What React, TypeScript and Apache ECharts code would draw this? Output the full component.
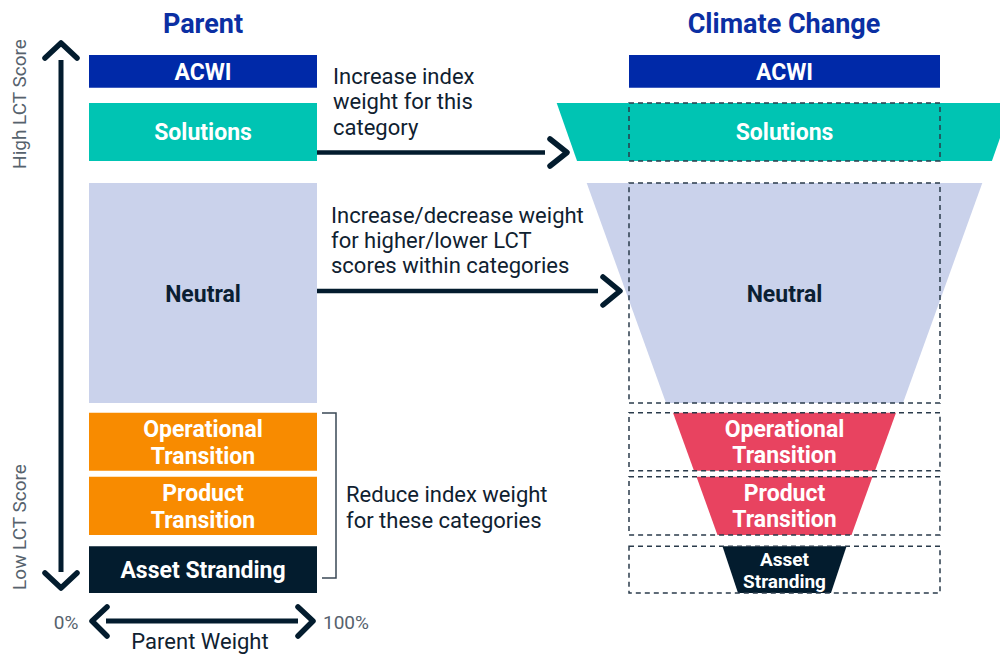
import React, { useEffect, useRef } from "react";
import * as echarts from "echarts";

// ---- data ----
const categories = [
  "ACWI",
  "Solutions",
  "Neutral",
  "Operational Transition",
  "Product Transition",
  "Asset Stranding",
];
const parentLabels = [
  "ACWI",
  "Solutions",
  "Neutral",
  "Operational\nTransition",
  "Product\nTransition",
  "Asset Stranding",
];
const climateLabels = [
  "ACWI",
  "Solutions",
  "Neutral",
  "Operational\nTransition",
  "Product\nTransition",
  "Asset\nStranding",
];
// band extent on the LCT-score rank scale (0 = highest, 100 = lowest)
const bandStart = [0, 8.9, 23.8, 66.5, 78.4, 91.3];
const bandEnd = [6.1, 19.7, 64.7, 77.3, 89.2, 100];
// parent weight (share of full width, %)
const parentWeight = [100, 100, 100, 100, 100, 100];
// climate change weight relative to parent (%), at top and bottom of each band
const climateTopWeight = [100, 146.5, 127.2, 71.7, 56.6, 39.9];
const climateBottomWeight = [100, 133.4, 76.2, 58.2, 43.1, 29.9];

// ---- styles ----
const parentColors = ["#0029A8", "#00C4B3", "#CAD2EB", "#F88B00", "#F88B00", "#031C2E"];
const climateColors = ["#0029A8", "#00C4B3", "#CAD2EB", "#E84360", "#E84360", "#031C2E"];
const labelColors = ["#FFFFFF", "#FFFFFF", "#0B1F33", "#FFFFFF", "#FFFFFF", "#FFFFFF"];
const climateFontSizes = [23, 23, 23, 23, 23, 19];
const climateLineHeights = [26, 26, 26, 26, 26, 21.5];

const FONT = "Roboto, 'Noto Sans', sans-serif";
const DARK = "#0F2130";
const GRAY = "#56626D";
const TITLE = "#0B2FA3";

function chevron(points: number[][]) {
  return {
    type: "polyline",
    shape: { points },
    style: { stroke: "#031C2E", lineWidth: 5.5, lineCap: "round", lineJoin: "round", fill: null },
  };
}

function line(x1: number, y1: number, x2: number, y2: number, w = 4.5) {
  return {
    type: "line",
    shape: { x1, y1, x2, y2 },
    style: { stroke: "#031C2E", lineWidth: w },
  };
}

function txt(x: number, y: number, text: string, opts: any = {}) {
  return {
    type: "text",
    x,
    y,
    rotation: opts.rotation || 0,
    style: {
      text,
      fill: opts.fill || DARK,
      fontFamily: FONT,
      fontSize: opts.fontSize || 22,
      fontWeight: opts.fontWeight || "normal",
      align: opts.align || "left",
      verticalAlign: "middle",
      lineHeight: opts.lineHeight || 25.5,
    },
  };
}

export default function App() {
  const ref = useRef<HTMLDivElement>(null);

  useEffect(() => {
    document.body.style.margin = "0";
    if (!ref.current) return;
    const chart = echarts.init(ref.current, undefined, { renderer: "svg" });

    const parentData = categories.map((_, i) => [0, parentWeight[i], bandStart[i], bandEnd[i]]);
    const climateData = categories.map((_, i) => [
      climateTopWeight[i],
      climateBottomWeight[i],
      bandStart[i],
      bandEnd[i],
    ]);

    const option: any = {
      animation: false,
      backgroundColor: "#ffffff",
      grid: [
        { left: 89, top: 55, width: 228, height: 538 },
        { left: 629, top: 55, width: 311, height: 538 },
      ],
      xAxis: [
        { type: "value", gridIndex: 0, min: 0, max: 100, show: false },
        { type: "value", gridIndex: 1, min: 0, max: 100, show: false },
      ],
      yAxis: [
        { type: "value", gridIndex: 0, min: 0, max: 100, inverse: true, show: false },
        { type: "value", gridIndex: 1, min: 0, max: 100, inverse: true, show: false },
      ],
      series: [
        {
          type: "custom",
          name: "Parent",
          xAxisIndex: 0,
          yAxisIndex: 0,
          clip: false,
          data: parentData,
          renderItem: (params: any, api: any) => {
            const i = params.dataIndex;
            const p0 = api.coord([api.value(0), api.value(2)]);
            const p1 = api.coord([api.value(1), api.value(3)]);
            return {
              type: "group",
              children: [
                {
                  type: "rect",
                  shape: { x: p0[0], y: p0[1], width: p1[0] - p0[0], height: p1[1] - p0[1] },
                  style: { fill: parentColors[i] },
                },
                {
                  type: "text",
                  x: (p0[0] + p1[0]) / 2,
                  y: (p0[1] + p1[1]) / 2 + 1,
                  style: {
                    text: parentLabels[i],
                    fill: labelColors[i],
                    fontFamily: FONT,
                    fontWeight: "bold",
                    fontSize: 23,
                    lineHeight: 27,
                    align: "center",
                    verticalAlign: "middle",
                  },
                },
              ],
            };
          },
        },
        {
          type: "custom",
          name: "Climate Change",
          xAxisIndex: 1,
          yAxisIndex: 1,
          clip: false,
          data: climateData,
          renderItem: (params: any, api: any) => {
            const i = params.dataIndex;
            const tw = api.value(0);
            const bw = api.value(1);
            const y0 = api.value(2);
            const y1 = api.value(3);
            const tl = api.coord([50 - tw / 2, y0]);
            const tr = api.coord([50 + tw / 2, y0]);
            const br = api.coord([50 + bw / 2, y1]);
            const bl = api.coord([50 - bw / 2, y1]);
            const r0 = api.coord([0, y0]);
            const r1 = api.coord([100, y1]);
            const children: any[] = [
              {
                type: "polygon",
                shape: { points: [tl, tr, br, bl] },
                style: { fill: climateColors[i] },
              },
            ];
            if (i > 0) {
              children.push({
                type: "rect",
                shape: { x: r0[0], y: r0[1], width: r1[0] - r0[0], height: r1[1] - r0[1] },
                style: { fill: null, stroke: "#2A3B4B", lineWidth: 1.5, lineDash: [5, 4] },
              });
            }
            children.push({
              type: "text",
              x: (r0[0] + r1[0]) / 2,
              y: (r0[1] + r1[1]) / 2 + 1,
              style: {
                text: climateLabels[i],
                fill: labelColors[i],
                fontFamily: FONT,
                fontWeight: "bold",
                fontSize: climateFontSizes[i],
                lineHeight: climateLineHeights[i],
                align: "center",
                verticalAlign: "middle",
              },
            });
            return { type: "group", children };
          },
        },
      ],
      graphic: [
        txt(203, 24, "Parent", { fill: TITLE, fontSize: 27, fontWeight: "bold", align: "center" }),
        txt(784, 24, "Climate Change", { fill: TITLE, fontSize: 27, fontWeight: "bold", align: "center" }),
        // annotations
        txt(333, 76, "Increase index", {}),
        txt(333, 101.5, "weight for this", {}),
        txt(333, 127, "category", {}),
        txt(331, 215, "Increase/decrease weight", {}),
        txt(331, 240, "for higher/lower LCT", {}),
        txt(331, 265, "scores within categories", {}),
        txt(346, 494, "Reduce index weight", {}),
        txt(346, 520, "for these categories", {}),
        // arrows between panels
        line(317, 152.5, 545, 152.5),
        chevron([[550, 139], [567, 152.5], [550, 166]]),
        line(317, 291, 598, 291),
        chevron([[603, 277], [620, 291], [603, 305]]),
        // bracket
        {
          type: "polyline",
          shape: { points: [[322, 413], [336, 413], [336, 578], [322, 578]] },
          style: { stroke: "#3A4856", lineWidth: 1.5, fill: null },
        },
        // vertical LCT arrow
        line(61, 60, 61, 572, 5),
        chevron([[45, 58], [61, 43], [77, 58]]),
        chevron([[45, 573], [61, 588], [77, 573]]),
        txt(19, 104, "High LCT Score", { fill: GRAY, fontSize: 19, align: "center", rotation: Math.PI / 2 }),
        txt(19, 527, "Low LCT Score", { fill: GRAY, fontSize: 19, align: "center", rotation: Math.PI / 2 }),
        // horizontal parent weight arrow
        line(106, 621, 298, 621, 5),
        chevron([[107, 607], [92, 621], [107, 636]]),
        chevron([[298, 607], [313, 621], [298, 636]]),
        txt(66, 622, "0%", { fill: GRAY, fontSize: 19, align: "center" }),
        txt(323, 622, "100%", { fill: GRAY, fontSize: 19 }),
        txt(200, 641, "Parent Weight", { fontSize: 22, align: "center" }),
      ],
    };

    chart.setOption(option);
    return () => chart.dispose();
  }, []);

  return <div ref={ref} style={{ width: 1000, height: 654 }} />;
}
